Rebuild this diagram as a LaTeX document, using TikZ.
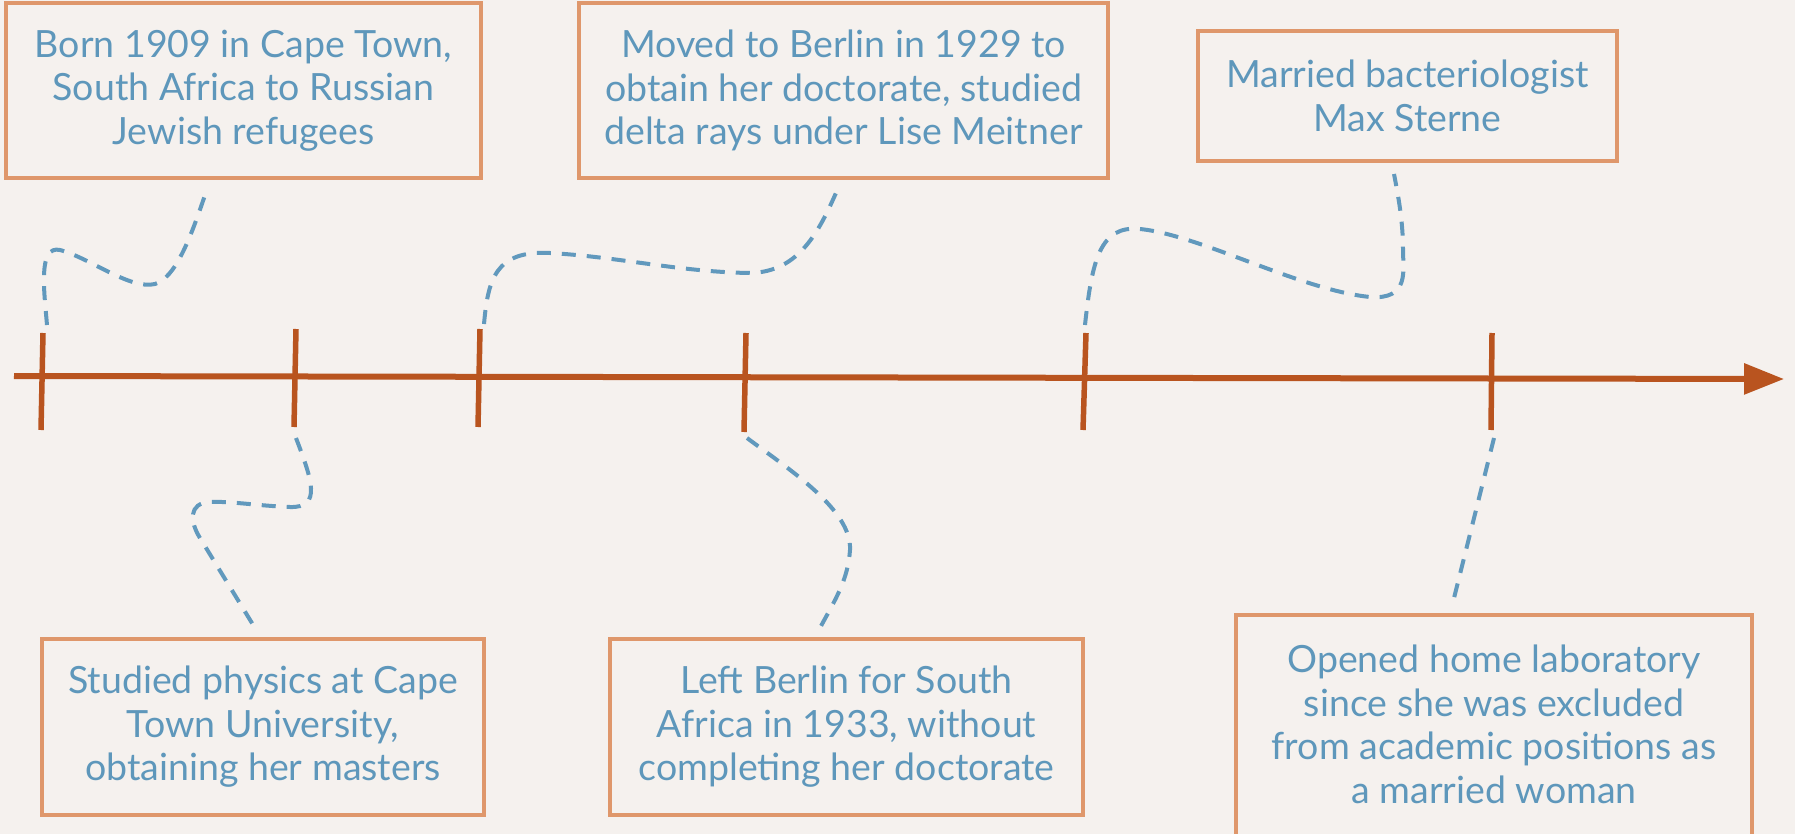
\documentclass[tikz,border=0pt]{standalone}
\usepackage{fontspec}
\setmainfont{Lato}
\usetikzlibrary{arrows.meta}
\definecolor{bg}{HTML}{F5F1EE}
\definecolor{boxc}{HTML}{DF976B}
\definecolor{txtc}{HTML}{5E97BB}
\definecolor{linec}{HTML}{B9541F}
\definecolor{dashc}{HTML}{6199BD}
\tikzset{
  evbox/.style={draw=boxc, line width=3.6pt, fill=bg, text=txtc, align=center,
    font=\fontsize{37.5}{43.5}\selectfont, inner sep=0pt},
  tline/.style={draw=linec, line width=6pt},
  tick/.style={draw=linec, line width=5.5pt},
  conn/.style={draw=dashc, line width=4pt, dash pattern=on 14pt off 11pt}
}
\begin{document}
\begin{tikzpicture}[x=1pt,y=-1pt]
\useasboundingbox (0,0) rectangle (1795,834);
\clip (0,0) rectangle (1795,834);
\fill[bg] (0,0) rectangle (1795,834);

% boxes
\node[evbox, minimum width=475pt, minimum height=175pt] (b1) at (243.5,90.5)
  {Born 1909 in Cape Town,\\South Africa to Russian\\Jewish refugees};
\node[evbox, minimum width=442pt, minimum height=176pt] (b2) at (263,727)
  {Studied physics at Cape\\Town University,\\obtaining her masters};
\node[evbox, minimum width=529pt, minimum height=175pt] (b3) at (843.5,90.5)
  {Moved to Berlin in 1929 to\\obtain her doctorate, studied\\delta rays under Lise Meitner};
\node[evbox, minimum width=473pt, minimum height=176pt] (b4) at (846.5,727)
  {Left Berlin for South\\Africa in 1933, without\\completing her doctorate};
\node[evbox, minimum width=419pt, minimum height=130pt] (b5) at (1407.5,96)
  {Married bacteriologist\\Max Sterne};
\node[evbox, draw=none, minimum width=512pt, minimum height=215pt] (b6) at (1494,724.5)
  {Opened home laboratory\\since she was excluded\\from academic positions as\\a married woman};
\draw[draw=boxc, line width=3.6pt] (b6.north west) rectangle ([yshift=-40pt]b6.south east);

% timeline
\coordinate (ls) at (14,376);
\coordinate (le) at (1784,379);
\draw[tline, -{Triangle[length=40pt,width=30pt]}] (ls) -- (le);

% ticks
\coordinate (t1a) at (43,333); \coordinate (t1b) at (41,430);
\coordinate (t2a) at (296,329); \coordinate (t2b) at (294,427);
\coordinate (t3a) at (480,329); \coordinate (t3b) at (478,427);
\coordinate (t4a) at (746,333); \coordinate (t4b) at (744,432);
\coordinate (t5a) at (1086,333); \coordinate (t5b) at (1083,430);
\coordinate (t6a) at (1492,333); \coordinate (t6b) at (1491,430);
\foreach \i in {1,...,6} { \draw[tick] (t\i a) -- (t\i b); }

% connectors
\coordinate (c1s) at (47,325); \coordinate (c1e) at (206,192);
\draw[conn] (c1s) .. controls (44,290) and (38,245) .. (60,250)
  .. controls (90,258) and (130,290) .. (155,284)
  .. controls (175,278) and (190,240) .. (c1e);

\coordinate (c2s) at (296,438); \coordinate (c2e) at (255,628);
\draw[conn] (c2s) .. controls (312,480) and (322,508) .. (290,507)
  .. controls (260,506) and (230,501) .. (210,502)
  .. controls (188,503) and (190,522) .. (200,538) -- (c2e);

\coordinate (c3s) at (484,324); \coordinate (c3e) at (839,186);
\draw[conn] (c3s) .. controls (488,280) and (495,250) .. (550,253)
  .. controls (620,257) and (680,272) .. (750,273)
  .. controls (800,272) and (820,230) .. (c3e);

\coordinate (c4s) at (747,438); \coordinate (c4e) at (821,626);
\draw[conn] (c4s) .. controls (790,470) and (852,510) .. (850,550)
  .. controls (848,580) and (835,600) .. (c4e);

\coordinate (c5s) at (1085,325); \coordinate (c5e) at (1394,174);
\draw[conn] (c5s) .. controls (1092,260) and (1100,225) .. (1140,229)
  .. controls (1200,235) and (1300,290) .. (1370,297)
  .. controls (1410,300) and (1403,270) .. (1403,250)
  .. controls (1403,220) and (1398,195) .. (c5e);

\coordinate (c6s) at (1494,438); \coordinate (c6e) at (1453,602);
\draw[conn] (c6s) -- (c6e);
\end{tikzpicture}
\end{document}
